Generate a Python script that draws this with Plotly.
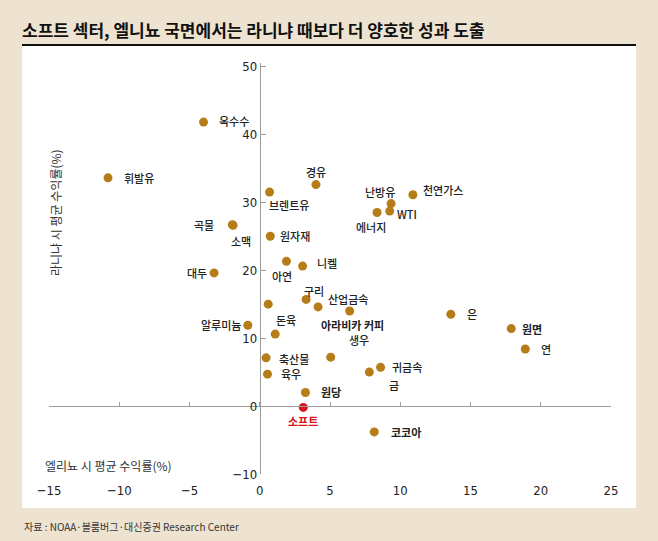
'''
엘니뇨/라니냐 국면별 원자재 평균 수익률 산점도
'''
import plotly.graph_objects as go

# 엘니뇨 시 평균 수익률(%) / 라니냐 시 평균 수익률(%)
names = ['옥수수', '휘발유', '경유', '브렌트유', '곡물', '소맥', '원자재', '대두', '아연', '니켈',
         '난방유', 'WTI', '에너지', '천연가스', '구리', '아라비카 커피', '산업금속', '', '알루미늄',
         '돈육', '축산물', '생우', '육우', '금', '귀금속', '원당', '소프트', '코코아', '은', '원면', '연']
el_nino = [-4.0, -10.8, 4.0, 0.7, -1.95, -1.9, 0.75, -3.25, 1.9, 3.05,
           9.35, 9.25, 8.35, 10.9, 3.3, 4.15, 6.4, 0.6, -0.85,
           1.1, 0.45, 5.05, 0.55, 7.8, 8.6, 3.25, 3.1, 8.15, 13.6, 17.9, 18.9]
la_nina = [41.8, 33.6, 32.6, 31.5, 26.7, 26.6, 25.0, 19.6, 21.3, 20.6,
           29.8, 28.7, 28.5, 31.1, 15.7, 14.6, 14.0, 15.0, 11.9,
           10.6, 7.1, 7.2, 4.7, 5.0, 5.7, 2.0, -0.2, -3.8, 13.5, 11.4, 8.4]

x_ticks = [-15, -10, -5, 0, 5, 10, 15, 20, 25]
y_ticks = [-10, 0, 10, 20, 30, 40, 50]

highlight = '소프트'
bold_names = ['원당', '코코아', '원면', '아라비카 커피', '소프트']

# label offset from its dot, in pixels (dx right, dy up)
label_offset = {
    '옥수수': (30, 1), '휘발유': (31, 0), '경유': (0, 13), '브렌트유': (19, -13),
    '곡물': (-28, 0), '소맥': (8, -16), '원자재': (25, 0), '대두': (-17, 0),
    '아연': (-4, -15), '니켈': (24, 3), '난방유': (-11, 12), 'WTI': (17, -3),
    '에너지': (-6, -15), '천연가스': (30, 5), '구리': (8, 8), '아라비카 커피': (34, -18),
    '산업금속': (-2, 12), '알루미늄': (-27, 0), '돈육': (11, 14), '축산물': (28, -1),
    '생우': (28, 17), '육우': (24, 0), '금': (25, -13), '귀금속': (26, 0),
    '원당': (26, 0), '소프트': (0, -14), '코코아': (32, 0), '은': (21, 0),
    '원면': (21, 0), '연': (21, 0),
}

GOLD = '#B57C17'
RED = '#D5141F'
BG = '#EEE3D0'
AXIS = '#9C9C9C'
KR = 'Noto Sans CJK KR'
NUM = 'DejaVu Sans Condensed, Liberation Sans Narrow, Arial'

W, H = 658, 541
L, R, T, B = 49, 47, 63, 67


def px_x(p):
    '''pixel column -> paper x'''
    return (p - L) / (W - L - R)


def px_y(p):
    '''pixel row -> paper y'''
    return (H - B - p) / (H - T - B)


colors = [RED if n == highlight else GOLD for n in names]

fig = go.Figure()
fig.add_trace(go.Scatter(
    x=el_nino, y=la_nina, mode='markers',
    marker=dict(size=9, color=colors, line=dict(width=0)),
    hoverinfo='skip', showlegend=False,
))

annotations = []
for n, xv, yv in zip(names, el_nino, la_nina):
    if not n:
        continue
    dx, dy = label_offset[n]
    weight = 'bold' if n in bold_names else 500
    annotations.append(dict(
        x=xv, y=yv, text=n, showarrow=False, xshift=dx, yshift=dy,
        font=dict(family=KR, size=11, color=RED if n == highlight else '#222222',
                  weight=weight),
    ))

# axis titles, source
annotations.append(dict(
    xref='paper', yref='paper', x=px_x(55), y=px_y(213), xanchor='center', yanchor='middle',
    text='라니냐 시 평균 수익률(%)', textangle=-90, showarrow=False,
    font=dict(family=KR, size=12, color='#333333'),
))
annotations.append(dict(
    xref='paper', yref='paper', x=px_x(43), y=px_y(465), xanchor='left', yanchor='middle',
    text='엘리뇨 시 평균 수익률(%)', showarrow=False,
    font=dict(family=KR, size=12, color='#333333'),
))
annotations.append(dict(
    xref='paper', yref='paper', x=px_x(22), y=px_y(526), xanchor='left', yanchor='middle',
    text='자료 : NOAA·블룸버그·대신증권 Research Center', showarrow=False,
    font=dict(family=KR, size=10, color='#333333'),
))

shapes = [
    # white panel
    dict(type='rect', xref='paper', yref='paper', x0=px_x(22), x1=px_x(636),
         y0=px_y(508), y1=px_y(46), fillcolor='white', line=dict(width=0), layer='below'),
    # rule under title
    dict(type='line', xref='paper', yref='paper', x0=px_x(22), x1=px_x(636),
         y0=px_y(45), y1=px_y(45), line=dict(color='#111111', width=2)),
]

fig.update_layout(
    width=W, height=H,
    margin=dict(l=L, r=R, t=T, b=B),
    paper_bgcolor=BG, plot_bgcolor='rgba(0,0,0,0)',
    title=dict(text='<b>소프트 섹터, 엘니뇨 국면에서는 라니냐 때보다 더 양호한 성과 도출</b>',
               x=22 / W, xanchor='left', y=1 - 31 / H, yanchor='middle',
               font=dict(family=KR, size=17, color='#111111', weight=900)),
    annotations=annotations,
    shapes=shapes,
    xaxis=dict(
        range=[-15, 25], tickvals=x_ticks, anchor='free', position=10 / 60.5,
        showline=True, linecolor=AXIS, linewidth=1, showgrid=False, zeroline=False,
        ticks='inside', ticklen=4, tickcolor=AXIS, ticklabelstandoff=72,
        tickfont=dict(family=NUM, size=13, color='#222222'),
    ),
    yaxis=dict(
        range=[-10, 50.5], tickvals=y_ticks, anchor='free', position=15 / 40,
        showline=True, linecolor=AXIS, linewidth=1, showgrid=False, zeroline=False,
        ticks='inside', ticklen=5, tickcolor=AXIS,
        tickfont=dict(family=NUM, size=13, color='#222222'),
    ),
)

# drop the default page margin so the figure fills the window
fig.write_html('out.html', config={'displayModeBar': False},
               post_script="document.body.style.margin='0';")
